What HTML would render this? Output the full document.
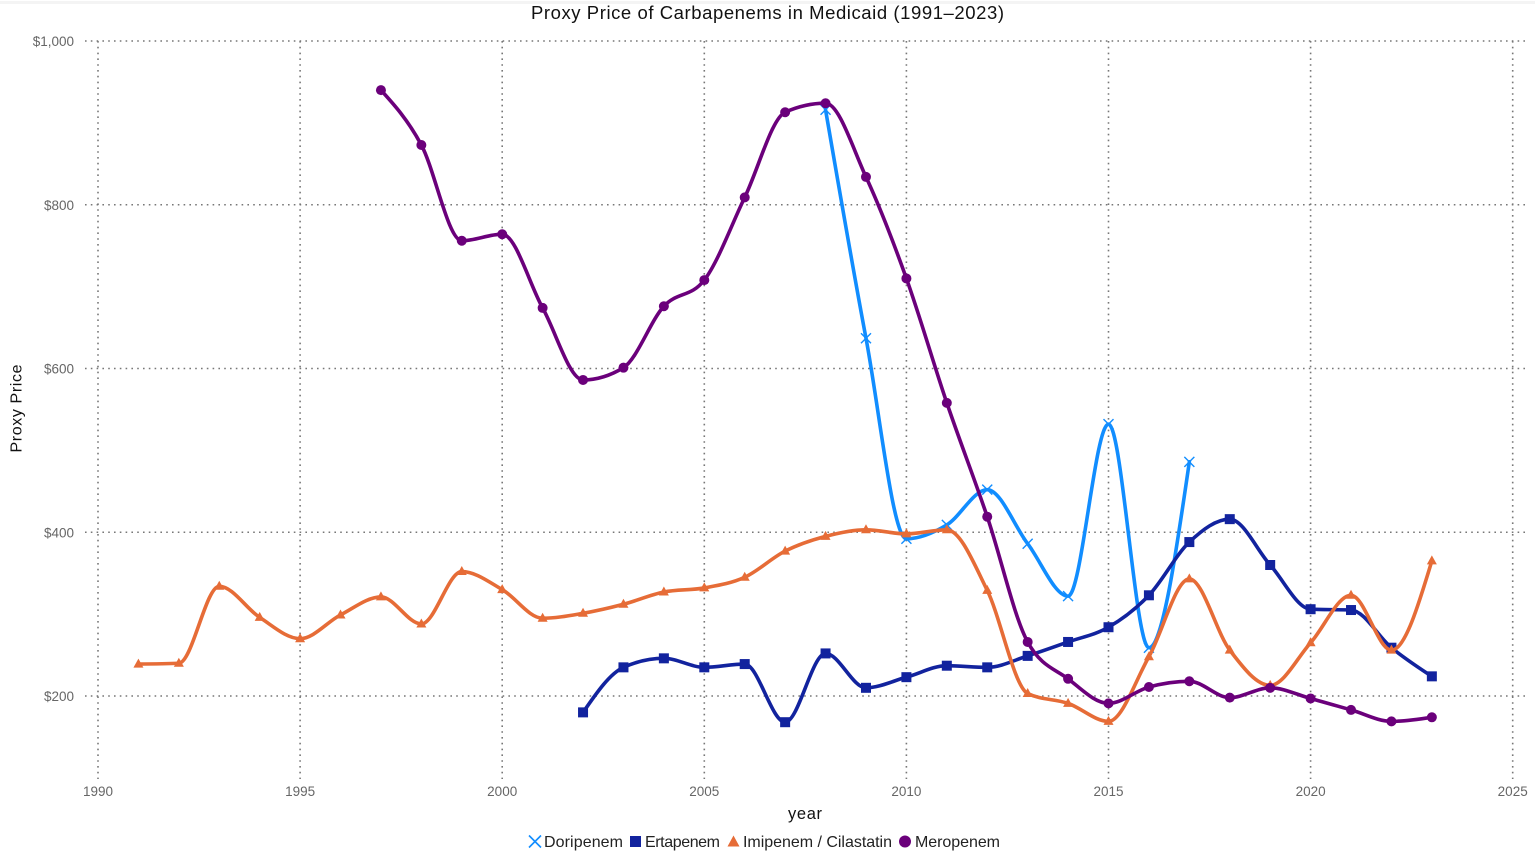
<!DOCTYPE html>
<html lang="en">
<head>
<meta charset="utf-8">
<title>Proxy Price of Carbapenems in Medicaid (1991–2023)</title>
<style>
  html, body { margin: 0; padding: 0; background: #fff; }
  body { width: 1535px; height: 853px; overflow: hidden; }
  svg { display: block; font-family: "Liberation Sans", "DejaVu Sans", sans-serif; }
</style>
</head>
<body>
<svg id="chart" xmlns="http://www.w3.org/2000/svg" width="1535" height="853" viewBox="0 0 1535 853">
  <rect x="0" y="1" width="1535" height="3" fill="#f4f4f4"/>
  <text x="767.5" y="19" text-anchor="middle" font-size="18.5" fill="#111" textLength="473" lengthAdjust="spacing">Proxy Price of Carbapenems in Medicaid (1991–2023)</text>
  <g id="grid"></g>
  <g id="ticks"></g>
  <text x="805" y="819" text-anchor="middle" font-size="16.5" fill="#111" textLength="34" lengthAdjust="spacing">year</text>
  <text transform="translate(21.5,408.5) rotate(-90)" text-anchor="middle" font-size="16" fill="#111" textLength="88" lengthAdjust="spacing">Proxy Price</text>
  <g id="series"></g>
  <g id="legend">
    <g>
      <path d="M529 835.5L541 847.5M541 835.5L529 847.5" stroke="#118DFF" stroke-width="1.6" fill="none"/>
      <text x="544" y="847" font-size="16" fill="#222" textLength="79" lengthAdjust="spacing">Doripenem</text>
    </g>
    <g>
      <rect x="630" y="836" width="11" height="11" fill="#12239E"/>
      <text x="645" y="847" font-size="16" fill="#222" textLength="75" lengthAdjust="spacing">Ertapenem</text>
    </g>
    <g>
      <path d="M733.5 835.5L739.5 846.5H727.5Z" fill="#E66C37"/>
      <text x="743" y="847" font-size="16" fill="#222" textLength="149" lengthAdjust="spacing">Imipenem / Cilastatin</text>
    </g>
    <g>
      <circle cx="905" cy="841.5" r="6" fill="#6B007B"/>
      <text x="915" y="847" font-size="16" fill="#222" textLength="85" lengthAdjust="spacing">Meropenem</text>
    </g>
  </g>
</svg>
<script>
const years = [1991,1992,1993,1994,1995,1996,1997,1998,1999,2000,2001,2002,2003,2004,2005,2006,2007,2008,2009,2010,2011,2012,2013,2014,2015,2016,2017,2018,2019,2020,2021,2022,2023];
const doripenem = [null,null,null,null,null,null,null,null,null,null,null,null,null,null,null,null,null,916,637,392,409,452,386,322,532,259,486,null,null,null,null,null,null];
const ertapenem = [null,null,null,null,null,null,null,null,null,null,null,180,235,246,235,239,168,252,210,223,237,235,249,266,284,323,388,416,360,306,305,259,224];
const imipenem = [239,240,334,296,270,299,321,288,352,330,295,301,312,327,332,345,377,395,403,398,403,329,203,191,169,248,343,256,213,265,323,256,365];
const meropenem = [null,null,null,null,null,null,940,873,756,764,674,586,601,676,708,809,913,924,834,710,558,419,266,221,191,211,218,198,210,197,183,169,174];
const xTicks = [1990,1995,2000,2005,2010,2015,2020,2025];
const yTicks = [200,400,600,800,1000];
const yTickLabels = ["$200","$400","$600","$800","$1,000"];

const NS = "http://www.w3.org/2000/svg";
const xScale = function (year) { return 98 + (year - 1990) * 40.42; };
const yScale = function (value) { return 696 - (value - 200) * 0.81875; };

function make(parent, tag, attrs) {
  const el = document.createElementNS(NS, tag);
  Object.keys(attrs).forEach(function (k) { el.setAttribute(k, attrs[k]); });
  parent.appendChild(el);
  return el;
}

const gridGroup = document.getElementById("grid");
const tickGroup = document.getElementById("ticks");

yTicks.forEach(function (tick, i) {
  const line = make(gridGroup, "line", { x1: 85, x2: 1525, y1: yScale(tick), y2: yScale(tick), stroke: "#777", "stroke-width": 1.6, "stroke-dasharray": "1.6 4.2" });
  
  
  const label = make(tickGroup, "text", { x: 74, y: yScale(tick) + 5, "text-anchor": "end", "font-size": 13.5, fill: "#666" });
  
  
  label.textContent = yTickLabels[i];
});

xTicks.forEach(function (tick) {
  const line = make(gridGroup, "line", { x1: xScale(tick), x2: xScale(tick), y1: 41, y2: 779, stroke: "#777", "stroke-width": 1.6, "stroke-dasharray": "1.6 4.2" });
  
  
  const label = make(tickGroup, "text", { x: xScale(tick), y: 796, "text-anchor": "middle", "font-size": 13.5, fill: "#666" });
  
  
  label.textContent = String(tick);
});

/* Monotone-X cubic interpolation, the shape of the smoothed lines */
function sign(v) { return v < 0 ? -1 : 1; }
function monotonePath(pts) {
  const n = pts.length;
  const dx = [], s = [], m = [];
  for (let i = 0; i < n - 1; i++) {
    dx[i] = pts[i + 1][0] - pts[i][0];
    s[i] = (pts[i + 1][1] - pts[i][1]) / dx[i];
  }
  for (let i = 1; i < n - 1; i++) {
    const p = (s[i - 1] * dx[i] + s[i] * dx[i - 1]) / (dx[i - 1] + dx[i]);
    m[i] = (sign(s[i - 1]) + sign(s[i])) * Math.min(Math.abs(s[i - 1]), Math.abs(s[i]), 0.5 * Math.abs(p)) || 0;
  }
  m[0] = (3 * s[0] - m[1]) / 2;
  m[n - 1] = (3 * s[n - 2] - m[n - 2]) / 2;
  let d = "M" + pts[0][0] + " " + pts[0][1];
  for (let i = 0; i < n - 1; i++) {
    const h = dx[i] / 3;
    d += "C" + (pts[i][0] + h) + " " + (pts[i][1] + m[i] * h) + " " +
         (pts[i + 1][0] - h) + " " + (pts[i + 1][1] - m[i + 1] * h) + " " +
         pts[i + 1][0] + " " + pts[i + 1][1];
  }
  return d;
}

function drawMarker(group, kind, x, y, color) {
  let el;
  if (kind === "x") {
    el = make(group, "path", { d: "M" + (x - 5) + " " + (y - 5) + "L" + (x + 5) + " " + (y + 5) + "M" + (x + 5) + " " + (y - 5) + "L" + (x - 5) + " " + (y + 5), stroke: color, "stroke-width": 1.4, fill: "none" });
  } else if (kind === "square") {
    el = make(group, "rect", { x: x - 5, y: y - 5, width: 10, height: 10, fill: color });
  } else if (kind === "triangle") {
    el = make(group, "path", { d: "M" + x + " " + (y - 5.5) + "L" + (x + 5) + " " + (y + 3.5) + "H" + (x - 5) + "Z", fill: color });
  } else {
    el = make(group, "circle", { cx: x, cy: y, r: 5, fill: color });
  }
  
  
}

function drawSeries(name, values, color, kind) {
  const root = document.getElementById("series");
  const group = make(root, "g", {});
  
  
  group.setAttribute('aria-label', name);
  const pts = [];
  values.forEach(function (v, i) {
    if (v !== null) pts.push([xScale(years[i]), yScale(v)]);
  });
  const line = make(group, "path", { d: monotonePath(pts), fill: "none", stroke: color, "stroke-width": 3.6, "stroke-linejoin": "round", "stroke-linecap": "round" });
  
  
  pts.forEach(function (p) { drawMarker(group, kind, p[0], p[1], color); });
}

drawSeries("Doripenem", doripenem, "#118DFF", "x");
drawSeries("Ertapenem", ertapenem, "#12239E", "square");
drawSeries("Imipenem / Cilastatin", imipenem, "#E66C37", "triangle");
drawSeries("Meropenem", meropenem, "#6B007B", "circle");
</script>
</body>
</html>
